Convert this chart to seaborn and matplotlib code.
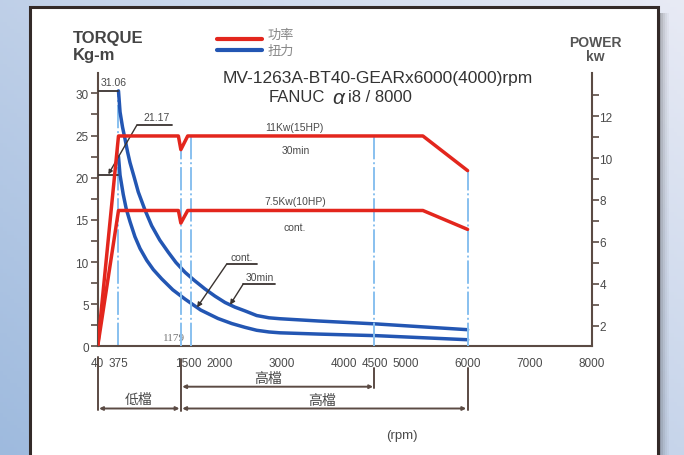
import numpy as np
import pandas as pd
import matplotlib
matplotlib.use("Agg")
import matplotlib.pyplot as plt
import matplotlib.transforms as mtransforms
from matplotlib.patches import Rectangle
from matplotlib.ticker import FixedLocator, MultipleLocator
import seaborn as sns

# ---------------- data ----------------
x_tick_values = [40, 375, 1500, 2000, 3000, 4000, 4500, 5000, 6000, 7000, 8000]
x_tick_labels = ["40", "375", "1500", "2000", "3000", "4000", "4500", "5000", "6000", "7000", "8000"]
torque_ticks = [0, 5, 10, 15, 20, 25, 30]
power_ticks = [2, 4, 6, 8, 10, 12]

power_rpm = [40, 375, 1340, 1380, 1490, 5280, 6000]
power_30min_kw = [1.03, 11.05, 11.05, 10.4, 11.05, 11.05, 9.4]
power_cont_kw = [1.03, 7.5, 7.5, 6.9, 7.5, 7.5, 6.6]

torque_30min_rpm = [375, 400, 440, 480, 520, 560, 630, 694, 800, 910, 1040, 1178, 1300, 1447,
                    1600, 1769, 1930, 2091, 2250, 2413, 2602, 2800, 2977, 3600, 4536, 6000]
torque_30min_kgm = [30.3, 27.8, 26.0, 24.6, 23.1, 21.8, 20.0, 18.3, 16.2, 14.3, 12.6, 11.15, 9.95, 8.78,
                    7.8, 6.8, 5.95, 5.2, 4.65, 4.2, 3.65, 3.38, 3.27, 3.0, 2.65, 1.97]

torque_cont_rpm = [375, 400, 452, 500, 560, 640, 722, 830, 936, 1071, 1250, 1447, 1700, 1978,
                   2200, 2413, 2602, 2800, 2977, 3600, 4536, 6000]
torque_cont_kgm = [22.5, 20.3, 18.0, 16.3, 14.8, 13.0, 11.6, 10.2, 9.1, 8.0, 6.7, 5.6, 4.3, 3.3,
                   2.7, 2.25, 1.9, 1.7, 1.6, 1.45, 1.26, 0.78]

guide_rpm = [375, 1380, 1540, 4500, 6000]
torque_max_labels = ["31.06", "21.17"]
torque_max_drawn = [30.3, 20.3]
gear_change_label = "1179"
power_labels = ["11Kw(15HP)", "30min", "7.5Kw(10HP)", "cont."]
legend_labels = ["功率", "扭力"]
title_line1 = "MV-1263A-BT40-GEARx6000(4000)rpm"

# ---------------- style ----------------
sns.set_style("white")
plt.rcParams["font.family"] = ["Liberation Sans", "Noto Sans CJK TC", "DejaVu Sans"]

RED = "#e3261d"
BLUE = "#2356b3"
GUIDE = "#88c0ef"
SPINE = "#5b4b44"
TXT = "#4a4a4a"

W, H = 684, 456
fig = plt.figure(figsize=(6.84, 4.56), dpi=100)


def fx(px):
    return px / W


def fy(py):
    return 1 - py / H


# background gradient
bg = fig.add_axes([0, 0, 1, 1], zorder=-20)
gx = np.linspace(0, 1, 200)
gy = np.linspace(0, 1, 120)
GX, GY = np.meshgrid(gx, gy)
t = np.clip(0.55 * GX + 0.45 * (1 - GY), 0, 1)
c0 = np.array([0.62, 0.73, 0.87])
c1 = np.array([0.91, 0.92, 0.96])
img = c0[None, None, :] * (1 - t[..., None]) + c1[None, None, :] * t[..., None]
bg.imshow(img, extent=[0, 1, 0, 1], aspect="auto", origin="upper")
bg.axis("off")

# panel shadow + white panel
for i, a in enumerate([0.35, 0.25, 0.16, 0.09, 0.04]):
    fig.patches.append(Rectangle((fx(659 + 2 * i), fy(470)), fx(2), fy(14) - fy(470),
                                 transform=fig.transFigure, color="#333", alpha=a, zorder=-15, lw=0))
fig.patches.append(Rectangle((fx(30), fy(470)), fx(628), fy(8) - fy(470), transform=fig.transFigure,
                             facecolor="white", edgecolor="#332a28", lw=2.2, zorder=-14))

# main axes
ax = fig.add_axes([fx(97.7), fy(347.3), fx(494), fy(74) - fy(347.3)])
ax.set_facecolor("none")
ax2 = ax.twinx()
ax.set_xlim(40, 8000)
ax.set_ylim(0, 32.42)
ax2.set_ylim(1.03, 14.05)

# guide lines (dash-dot light blue)
gstyle = dict(color=GUIDE, lw=1.4, ls=(0, (12, 1.5, 1, 1.5)), zorder=1)
ax.plot([guide_rpm[0], guide_rpm[0]], [0, torque_30min_kgm[0]], **gstyle)
for g in guide_rpm[1:]:
    top = np.interp(g, power_rpm, power_30min_kw)
    ax2.plot([g, g], [1.03, top], **gstyle)

# torque curves
sns.lineplot(x=torque_30min_rpm, y=torque_30min_kgm, ax=ax, color=BLUE, lw=2.5,
             estimator=None, sort=False, zorder=3)
sns.lineplot(x=torque_cont_rpm, y=torque_cont_kgm, ax=ax, color=BLUE, lw=2.5,
             estimator=None, sort=False, zorder=3)
# power curves
sns.lineplot(x=power_rpm, y=power_30min_kw, ax=ax2, color=RED, lw=2.5,
             estimator=None, sort=False, zorder=3)
sns.lineplot(x=power_rpm, y=power_cont_kw, ax=ax2, color=RED, lw=2.5,
             estimator=None, sort=False, zorder=3)

for a in (ax, ax2):
    a.set_xlabel("")
    a.set_ylabel("")
    for s in a.spines.values():
        s.set_visible(False)
for side in ("left", "bottom"):
    ax.spines[side].set_visible(True)
    ax.spines[side].set_color(SPINE)
    ax.spines[side].set_linewidth(1.5)
ax2.spines["right"].set_visible(True)
ax2.spines["right"].set_color(SPINE)
ax2.spines["right"].set_linewidth(1.5)

# ticks
ax.xaxis.set_major_locator(FixedLocator(x_tick_values))
ax.set_xticklabels(x_tick_labels)
ax.xaxis.set_minor_locator(FixedLocator(list(range(500, 8000, 500))))
ax.tick_params(axis="x", which="major", length=0, pad=8, labelsize=8.5, labelcolor=TXT)
ax.tick_params(axis="x", which="minor", length=4, width=1.2, color=SPINE, direction="out")
ax.set_yticks(torque_ticks)
ax.yaxis.set_minor_locator(MultipleLocator(2.5))
ax.tick_params(axis="y", which="both", length=5, width=1.2, color=SPINE, left=True, direction="out")
ax.tick_params(axis="y", which="major", labelsize=8.5, labelcolor=TXT, pad=1.5)
ax2.set_yticks(power_ticks)
ax2.yaxis.set_minor_locator(FixedLocator([3, 5, 7, 9, 11, 13]))
ax2.tick_params(axis="y", which="both", length=5, width=1.2, color=SPINE, right=True, direction="out")
ax2.tick_params(axis="y", which="major", labelsize=8.5, labelcolor=TXT, pad=0.5)

# max torque markers
LC = "#3a3330"
ax.plot([40, 375], [torque_max_drawn[0]] * 2, color=LC, lw=1.3, zorder=4)
ax.plot([40, 375], [torque_max_drawn[1]] * 2, color=LC, lw=1.3, zorder=4)
ax.text(80, 31.35, torque_max_labels[0], fontsize=7.5, color=TXT, va="center", ha="left")
ax.text(983, 27.25, torque_max_labels[1], fontsize=7.5, color=TXT, va="center", ha="center")
ax.plot([668, 1232], [26.2, 26.2], color=LC, lw=1.3)
ax.annotate("", xy=(211, torque_max_drawn[1] + 0.1), xytext=(668, 26.2),
            arrowprops=dict(arrowstyle="-|>", color=LC, lw=1.0, mutation_scale=6, shrinkA=0, shrinkB=0))

# cont / 30min leaders
tip_c = 1640
ax.annotate("", xy=(tip_c, np.interp(tip_c, torque_cont_rpm, torque_cont_kgm)), xytext=(2119, 9.76),
            arrowprops=dict(arrowstyle="-|>", color=LC, lw=1.0, mutation_scale=7, shrinkA=0, shrinkB=0))
ax.plot([2119, 2602], [9.76, 9.76], color=LC, lw=1.3)
ax.text(2360, 10.6, "cont.", fontsize=7.5, color=TXT, ha="center", va="center")
tip_h = 2172
ax.annotate("", xy=(tip_h, np.interp(tip_h, torque_30min_rpm, torque_30min_kgm)), xytext=(2386, 7.4),
            arrowprops=dict(arrowstyle="-|>", color=LC, lw=1.0, mutation_scale=7, shrinkA=0, shrinkB=0))
ax.plot([2386, 2897], [7.4, 7.4], color=LC, lw=1.3)
ax.text(2655, 8.25, "30min", fontsize=7.5, color=TXT, ha="center", va="center")

# power labels
ax2.text(3211, 11.5, power_labels[0], fontsize=7.5, color=TXT, ha="center", va="center")
ax2.text(3235, 10.4, power_labels[1], fontsize=7.5, color=TXT, ha="center", va="center")
ax2.text(3219, 7.95, power_labels[2], fontsize=7.5, color=TXT, ha="center", va="center")
ax2.text(3219, 6.7, power_labels[3], fontsize=7.5, color=TXT, ha="center", va="center")

# 1179 label
ax.text(1270, 1.0, gear_change_label, fontsize=8, color="#777", ha="center", va="center",
        family="Liberation Serif")

# gear range brackets below the axis
tr = mtransforms.blended_transform_factory(ax.transData, ax.transAxes)


def ya(py):
    return (347.3 - py) / 273.3


BC = "#5b4b44"
for xv, y0, y1 in [(40, 358, 411), (guide_rpm[1], 360, 411.5), (guide_rpm[3], 369, 388.5), (guide_rpm[4], 369, 410.5)]:
    ax.plot([xv, xv], [ya(y0), ya(y1)], transform=tr, color=BC, lw=1.4, clip_on=False)
for x0, x1, yp in [(guide_rpm[1], guide_rpm[3], 387.7), (40, guide_rpm[1], 409.5), (guide_rpm[1], guide_rpm[4], 409.5)]:
    ax.annotate("", xy=(x0, ya(yp)), xytext=(x1, ya(yp)), xycoords=tr, textcoords=tr,
                arrowprops=dict(arrowstyle="<|-|>", color=BC, lw=1.4, mutation_scale=5,
                                shrinkA=1, shrinkB=1), annotation_clip=False)
ax.text(706, ya(400), "低檔", transform=tr, fontsize=10, color=TXT, ha="center", va="center")
ax.text(2784, ya(378.5), "高檔", transform=tr, fontsize=10, color=TXT, ha="center", va="center")
ax.text(3649, ya(401), "高檔", transform=tr, fontsize=10, color=TXT, ha="center", va="center")
fig.text(fx(402), fy(436), "(rpm)", fontsize=9.5, color=TXT, ha="center", va="center")

# axis titles
fig.text(fx(72.7), fy(39), "TORQUE", fontsize=12, fontweight="bold", color="#444", ha="left", va="center")
fig.text(fx(72.7), fy(56), "Kg-m", fontsize=12, fontweight="bold", color="#444", ha="left", va="center")
fig.text(fx(595), fy(42.7), "POWER", fontsize=10, fontweight="bold", color="#555", ha="center", va="center")
fig.text(fx(595), fy(57.3), "kw", fontsize=10, fontweight="bold", color="#555", ha="center", va="center")

# legend
fig.lines.append(plt.Line2D([fx(216.7), fx(261.7)], [fy(40), fy(40)], transform=fig.transFigure, color=RED, lw=3))
fig.lines.append(plt.Line2D([fx(216.7), fx(261.7)], [fy(50.7), fy(50.7)], transform=fig.transFigure, color=BLUE, lw=3))
fig.text(fx(268), fy(36), legend_labels[0], fontsize=9.5, color="#888", ha="left", va="center")
fig.text(fx(268), fy(52), legend_labels[1], fontsize=9.5, color="#888", ha="left", va="center")

# title
fig.text(fx(377.5), fy(78), title_line1, fontsize=12.5, color="#333", ha="center", va="center")
fig.text(fx(269), fy(98), "FANUC", fontsize=12, color="#333", ha="left", va="center")
fig.text(fx(332), fy(98), "α", fontsize=15, style="italic", color="#333", ha="left", va="center")
fig.text(fx(348), fy(98), "i8 / 8000", fontsize=12, color="#333", ha="left", va="center")

fig.savefig("out.png", dpi=100)
